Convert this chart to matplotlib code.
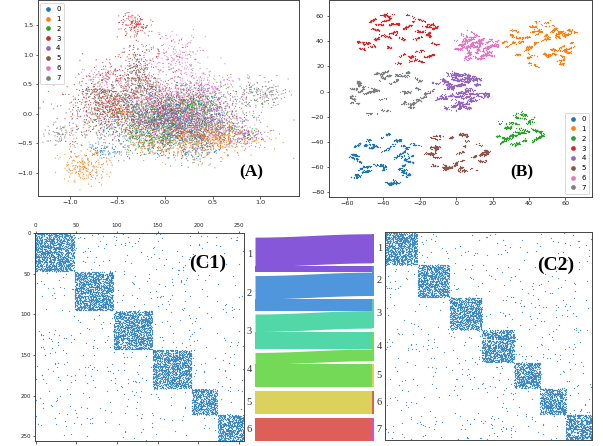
import numpy as np
import matplotlib
matplotlib.use('Agg')
import matplotlib.pyplot as plt
from matplotlib.patches import Rectangle

# ---------------- data ----------------
class_labels = ['0', '1', '2', '3', '4', '5', '6', '7']

# Panel A: PCA-like embedding, described as gaussian components per class
a_comp_class = [0, 0, 0, 1, 1, 1, 1, 2, 2, 2, 3, 3, 3, 3, 3, 4, 4, 4,
                5, 5, 5, 5, 5, 6, 6, 6, 6, 7, 7, 7, 7]
a_comp_cx = [0.05, -0.65, 0.35, -0.85, 0.25, -0.42, 0.6, 0.05, 0.35, -0.1,
             -0.32, -0.6, 0.15, -0.2, -0.55, 0.15, 0.85, 0.5,
             -0.65, -0.3, -0.25, 0.0, -0.72, 0.1, 0.15, -0.7, 0.4,
             1.0, -1.05, -0.1, -0.3]
a_comp_cy = [-0.15, -0.62, -0.55, -0.9, -0.45, 0.03, -0.35, -0.1, 0.15, -0.45,
             1.5, 0.15, 0.0, 0.95, 0.65, -0.05, -0.38, -0.25,
             0.15, 0.8, 0.45, 0.0, 0.38, 0.1, 0.95, 0.65, 0.45,
             0.35, -0.35, 0.0, 0.55]
a_comp_sx = [0.35, 0.08, 0.15, 0.13, 0.35, 0.05, 0.2, 0.38, 0.1, 0.15,
             0.08, 0.22, 0.32, 0.25, 0.12, 0.32, 0.12, 0.2,
             0.15, 0.06, 0.1, 0.32, 0.08, 0.32, 0.15, 0.12, 0.15,
             0.15, 0.12, 0.38, 0.12]
a_comp_sy = [0.25, 0.07, 0.15, 0.14, 0.15, 0.05, 0.1, 0.25, 0.08, 0.1,
             0.09, 0.22, 0.27, 0.3, 0.1, 0.25, 0.08, 0.12,
             0.2, 0.15, 0.1, 0.27, 0.06, 0.27, 0.2, 0.08, 0.1,
             0.12, 0.1, 0.3, 0.1]
a_comp_n = [700, 70, 120, 200, 550, 35, 160, 700, 120, 120,
            120, 300, 420, 110, 50, 750, 130, 170,
            260, 110, 130, 420, 70, 750, 170, 55, 130,
            180, 90, 500, 70]

# Panel B: t-SNE clusters (centre, radii, number of small strokes)
b_cx = [-40, 47, 33, -30, 1, 0, 12, -38]
b_cy = [-52, 37, -31, 43, 0, -48, 38, 0]
b_rx = [23, 21, 14, 24, 16, 17, 12, 21]
b_ry = [22, 20, 14, 21, 15, 17, 12, 20]
b_strokes = [45, 45, 30, 45, 70, 35, 40, 40]

# Panel C: block-structured affinity matrices
c1_blocks = [48, 48, 48, 48, 32, 32]
c2_blocks = [40, 40, 40, 40, 32, 32, 32]
c_block_density = 0.5
c_background_density = 0.009

# Sankey between C1 groups and C2 groups: (source, target, size)
sk_left_labels = ['1', '2', '3', '4', '5', '6']
sk_right_labels = ['1', '2', '3', '4', '5', '6', '7']
sk_src = [0, 0, 1, 1, 2, 2, 3, 3, 4, 5]
sk_dst = [0, 1, 1, 2, 2, 3, 3, 4, 5, 6]
sk_val = [40, 8, 32, 16, 24, 24, 16, 32, 32, 32]
sk_colors = ['#8657d9', '#5096dc', '#52d8a8', '#73d957', '#dad25a', '#de5e58', '#d650d6']

# ---------------- figure ----------------
W, H = 603, 446
fig = plt.figure(figsize=(W / 100, H / 100), dpi=100)
tab10 = list(plt.get_cmap('tab10').colors)
rng = np.random.default_rng(7)


def px_axes(l, t, r, b):
    return fig.add_axes([l / W, 1 - b / H, (r - l) / W, (b - t) / H])


def style_axes(ax, fs=4.6):
    for s in ax.spines.values():
        s.set_linewidth(0.7)
        s.set_color('#444444')
    ax.tick_params(labelsize=fs, length=1.8, width=0.5, pad=1.5, colors='#222222')


def legend(ax, loc):
    handles = [plt.Line2D([], [], marker='o', ls='', ms=3.4, color=tab10[i], mew=0)
               for i in range(8)]
    lg = ax.legend(handles, class_labels, loc=loc, fontsize=5, labelspacing=0.55,
                   handletextpad=0.6, borderpad=0.5, handlelength=1.2,
                   borderaxespad=0.35, framealpha=1, edgecolor='#cccccc')
    lg.get_frame().set_linewidth(0.5)


# ---- Panel A ----
axA = px_axes(37.7, 0.3, 299.3, 195.7)
xs, ys, cs = [], [], []
for k in range(len(a_comp_class)):
    n = a_comp_n[k]
    xs.append(rng.normal(a_comp_cx[k], a_comp_sx[k], n))
    ys.append(rng.normal(a_comp_cy[k], a_comp_sy[k], n))
    cs += [tab10[a_comp_class[k]]] * n
xs = np.concatenate(xs); ys = np.concatenate(ys); cs = np.array(cs)
order = rng.permutation(len(xs))
axA.scatter(xs[order], ys[order], s=0.65, c=cs[order], linewidths=0, alpha=0.95)
axA.set_xlim(-1.337, 1.41)
axA.set_ylim(-1.39, 1.92)
axA.set_xticks([-1.0, -0.5, 0.0, 0.5, 1.0])
axA.set_yticks([-1.0, -0.5, 0.0, 0.5, 1.0, 1.5])
style_axes(axA)
legend(axA, 'upper left')
fig.text(251.7 / W, 1 - 172 / H, '(A)', ha='center', va='center', fontsize=12.5,
         fontweight='bold', family='Liberation Serif')

# ---- Panel B ----
axB = px_axes(328.7, 0.3, 591.7, 196.7)
for c in range(8):
    for j in range(b_strokes[c]):
        r = np.sqrt(rng.uniform(0, 1))
        th = rng.uniform(0, 2 * np.pi)
        px = b_cx[c] + r * b_rx[c] * np.cos(th)
        py = b_cy[c] + r * b_ry[c] * np.sin(th)
        npt = rng.integers(6, 28)
        L = rng.uniform(1, 7)
        ang = rng.uniform(-0.6, 0.9)
        t = rng.uniform(-0.5, 0.5, npt)
        sx = px + t * L * np.cos(ang) + rng.normal(0, 0.4, npt)
        sy = py + t * L * np.sin(ang) + rng.normal(0, 0.4, npt)
        axB.scatter(sx, sy, s=0.85, color=tab10[c], linewidths=0)
axB.set_xlim(-70.1, 74.4)
axB.set_ylim(-83.8, 72.7)
axB.set_xticks(np.arange(-60, 61, 20))
axB.set_yticks(np.arange(-80, 61, 20))
style_axes(axB)
legend(axB, 'lower right')
fig.text(521.7 / W, 1 - 172.7 / H, '(B)', ha='center', va='center', fontsize=12.5,
         fontweight='bold', family='Liberation Serif')


# ---- Panel C matrices ----
def block_matrix(blocks):
    n = sum(blocks)
    lab = np.repeat(np.arange(len(blocks)), blocks)
    same = lab[:, None] == lab[None, :]
    p = np.where(same, c_block_density, c_background_density)
    m = rng.uniform(0, 1, (n, n)) < p
    return np.nonzero(m)


def draw_matrix(ax, rows, cols):
    # tiny sub-cell offsets only to avoid pixel-grid moire
    jr = rng.uniform(-0.35, 0.35, len(rows))
    jc = rng.uniform(-0.35, 0.35, len(cols))
    ax.scatter(cols + jc, rows + jr, s=0.85, marker='o', color='#2a7fc0',
               linewidths=0, alpha=0.85)


axC1 = px_axes(35.3, 232.6, 243.6, 440.7)
r1, k1 = block_matrix(c1_blocks)
draw_matrix(axC1, r1, k1)
n1 = sum(c1_blocks)
axC1.set_xlim(-0.5, n1 - 0.5)
axC1.set_ylim(n1 - 0.5, -0.5)
axC1.set_xticks(np.arange(0, 251, 50))
axC1.set_yticks(np.arange(0, 251, 50))
axC1.xaxis.tick_top()
axC1.xaxis.set_ticks_position('both')
style_axes(axC1, fs=4.0)
axC1.tick_params(axis='x', which='both', labelbottom=False)
fig.text(208 / W, 1 - 263 / H, '(C1)', ha='center', va='center', fontsize=14,
         fontweight='bold', family='Liberation Serif')

axC2 = px_axes(385, 232.3, 591.7, 440.3)
r2, k2 = block_matrix(c2_blocks)
draw_matrix(axC2, r2, k2)
n2 = sum(c2_blocks)
axC2.set_xlim(-0.5, n2 - 0.5)
axC2.set_ylim(n2 - 0.5, -0.5)
axC2.set_xticks([]); axC2.set_yticks([])
style_axes(axC2)
fig.text(556 / W, 1 - 265 / H, '(C2)', ha='center', va='center', fontsize=14,
         fontweight='bold', family='Liberation Serif')

# ---- Sankey ----
axS = px_axes(240, 205, 392, 446)
axS.set_xlim(240, 392)
axS.set_ylim(446, 205)
axS.axis('off')
u, gap, ybot = 0.73, 3.4, 441.0
x0, x1, xstrip = 255.0, 371.7, 2.3

lsz = [sum(v for s, v in zip(sk_src, sk_val) if s == i) for i in range(len(sk_left_labels))]
rsz = [sum(v for d, v in zip(sk_dst, sk_val) if d == i) for i in range(len(sk_right_labels))]


def stack(sizes):
    top = ybot - (sum(sizes) * u + (len(sizes) - 1) * gap)
    tops = []
    y = top
    for s in sizes:
        tops.append(y)
        y += s * u + gap
    return tops


ltop = stack(lsz)
rtop = stack(rsz)
lcur = list(ltop)
rcur = list(rtop)
xx = np.linspace(x0, x1, 200)
ss = (1 - np.cos(np.pi * (xx - x0) / (x1 - x0))) / 2
for s, d, v in zip(sk_src, sk_dst, sk_val):
    h = v * u
    lt, rt = lcur[s], rcur[d]
    top = lt + (rt - lt) * ss
    axS.fill_between(xx, top, top + h, color=sk_colors[s], lw=0)
    lcur[s] += h
    rcur[d] += h
for i, s in enumerate(rsz):
    axS.add_patch(Rectangle((x1, rtop[i]), xstrip, s * u, color=sk_colors[i], lw=0))
    axS.text(379.3, rtop[i] + s * u / 2, sk_right_labels[i], ha='center', va='center',
             fontsize=7.5, family='Liberation Serif', color='#333333')
for i, s in enumerate(lsz):
    axS.text(249.3, ltop[i] + s * u / 2, sk_left_labels[i], ha='center', va='center',
             fontsize=7.5, family='Liberation Serif', color='#333333')

fig.savefig('out.png', dpi=100)
